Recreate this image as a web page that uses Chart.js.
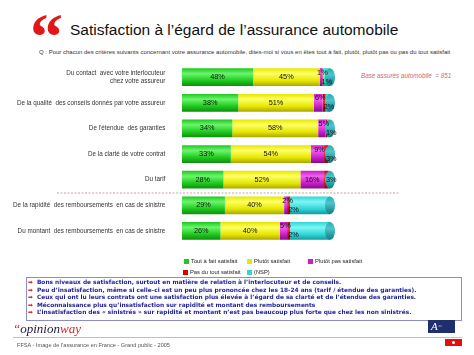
<!DOCTYPE html>
<html><head><meta charset="utf-8">
<script src="https://cdn.jsdelivr.net/npm/chart.js@4"></script>
<style>
body{margin:0;width:474px;height:355px;background:#fff;position:relative;overflow:hidden;font-family:"Liberation Sans",Arial,sans-serif}
.abs{position:absolute;white-space:nowrap}
#c{position:absolute;left:0;top:0}
.lg{position:absolute;font-size:5.8px;line-height:6px;color:#222;white-space:nowrap}
.lg i{display:inline-block;width:5px;height:5px;margin-right:2px;vertical-align:-0.5px}
.bx{position:absolute;left:26px;top:277px;width:434px;height:42px;border:1px solid #8c8cc8}
.ln{position:absolute;left:28px;font-family:"DejaVu Sans",Verdana,sans-serif;font-weight:bold;font-size:5.85px;line-height:7px;color:#1e1e9a;white-space:nowrap}
.ln b{color:#e03020;margin-right:4px}
</style></head><body>
<div class="abs" style="left:30px;top:4px;font-family:'Liberation Serif',serif;font-weight:bold;font-size:66px;line-height:66px;color:#e01818">“</div>
<div class="abs" style="left:70px;top:22px;font-size:15.5px;line-height:16px;color:#111">Satisfaction à l’égard de l’assurance automobile</div>
<div class="abs" style="left:39px;top:49px;font-size:6px;line-height:6px;color:#333">Q : Pour chacun des critères suivants concernant votre assurance automobile, dites-moi si vous en êtes tout à fait, plutôt, plutôt pas ou pas du tout satisfait</div>
<div class="abs" style="left:361px;top:72px;font-size:6.3px;line-height:7px;font-style:italic;color:#d06a6a">Base assurés automobile &nbsp;= 851</div>
<canvas id="c" width="474" height="260"></canvas>
<div id="legend"></div>
<div class="bx"></div>
<div id="notes"></div>
<div class="abs" style="left:13px;top:322px;font-family:'Liberation Serif',serif;font-style:italic;font-size:13px;line-height:14px"><span style="color:#e02020">“</span><span style="color:#1a1a40">opinion</span><span style="color:#e02020">way</span></div>
<div class="abs" style="left:13px;top:337px;width:449px;height:1px;background:#d8b4b4"></div>
<div class="abs" style="left:17px;top:342px;font-size:5.6px;line-height:6px;color:#555">FFSA - Image de l’assurance en France - Grand public - 2005</div>
<div class="abs" style="left:428px;top:320px;width:27px;height:13px;background:#1f2f6e;color:#fff;font-family:'Liberation Serif',serif;font-style:italic;font-size:11px;line-height:13px;text-indent:3px">A<span style="font-size:3px;font-style:normal;vertical-align:3px"> ≡≡</span></div>
<div class="abs" style="left:445px;top:339px;width:17px;height:7px;background:#e01010"><div style="position:absolute;left:7px;top:2px;width:3px;height:3px;background:#fff;border-radius:2px"></div></div>
<script>
const categories = [
  ["Du contact  avec votre interlocuteur", "chez votre assureur"],
  "De la qualité  des conseils donnés par votre assureur",
  "De l'étendue  des garanties",
  "De la clarté de votre contrat",
  "Du tarif",
  "De la rapidité  des remboursements  en cas de sinistre",
  "Du montant  des remboursements  en cas de sinistre"
];
const seriesNames = ["Tout à fait satisfait", "Plutôt satisfait", "Plutôt pas satisfait", "Pas du tout satisfait", "(NSP)"];
const toutAFait = [48, 38, 34, 33, 28, 29, 26];
const plutot    = [45, 51, 58, 54, 52, 40, 40];
const plutotPas = [1, 6, 5, 9, 16, 2, 5];
const pasDuTout = [1, 2, 1, 3, 3, 2, 2];
const nsp       = [5, 3, 2, 1, 1, 27, 27];
const notes = [
  "Bons niveaux de satisfaction,  surtout en matière de relation à l’interlocuteur  et de conseils.",
  "Peu d’insatisfaction,  même si celle-ci est un peu plus prononcée chez les 18-24 ans (tarif / étendue des garanties).",
  "Ceux qui ont lu leurs contrats ont une  satisfaction plus élevée à l’égard de sa clarté et de l’étendue des garanties.",
  "Méconnaissance plus qu’insatisfaction  sur rapidité et montant  des remboursements",
  "L’insatisfaction des « sinistrés » sur rapidité et montant n’est pas beaucoup plus forte que chez les non sinistrés."
];

const palette = [
  {base:'#1ec81e', light:'#6cf56c', dark:'#0f8f0f'},
  {base:'#e6e600', light:'#ffff66', dark:'#a8a800'},
  {base:'#c81ec8', light:'#f060f0', dark:'#8a0a8a'},
  {base:'#d80000', light:'#ff4040', dark:'#900000'},
  {base:'#30d6d6', light:'#80f4f4', dark:'#159a9a'}
];
const CAT_PCT = 0.69;
function grad(p){
  return (ctx) => {
    const ch = ctx.chart, ys = ch.scales.y;
    if (!ch.chartArea || !ys || ctx.dataIndex === undefined) return p.base;
    const yc = ys.getPixelForValue(ctx.dataIndex);
    const h = ys.height / categories.length * CAT_PCT / 2;
    const g = ch.ctx.createLinearGradient(0, yc - h, 0, yc + h);
    g.addColorStop(0, p.base);
    g.addColorStop(0.3, p.light);
    g.addColorStop(0.7, p.base);
    g.addColorStop(1, p.dark);
    return g;
  };
}
const allData = [toutAFait, plutot, plutotPas, pasDuTout, nsp];
const datasets = allData.map((d, i) => ({
  label: seriesNames[i], data: d,
  backgroundColor: grad(palette[i]),
  borderWidth: 0,
  borderRadius: i === 0 ? 6 : 0,
  borderSkipped: false,
  categoryPercentage: CAT_PCT, barPercentage: 1
}));

const deco = {
  id: 'deco',
  afterDatasetsDraw(chart) {
    const c = chart.ctx, ys = chart.scales.y;
    const last = chart.getDatasetMeta(4);
    last.data.forEach(el => {
      const h = el.height / 2;
      const g = c.createLinearGradient(0, el.y - h, 0, el.y + h);
      g.addColorStop(0, '#2aa8ae'); g.addColorStop(0.35, '#4cc6cc'); g.addColorStop(1, '#0f7c84');
      c.save(); c.beginPath(); c.ellipse(el.x, el.y, 5, h, 0, 0, Math.PI * 2);
      c.fillStyle = g; c.fill(); c.restore();
    });
    c.save();
    c.font = '7.3px "Liberation Sans", Arial, sans-serif';
    c.textAlign = 'center'; c.textBaseline = 'middle'; c.fillStyle = '#111';
    for (let i = 0; i < categories.length; i++) {
      for (let d = 0; d < 4; d++) {
        const el = chart.getDatasetMeta(d).data[i];
        const v = allData[d][i];
        if (!v) continue;
        const cx = (el.x + el.base) / 2;
        let x = cx, y = el.y;
        if (d === 2 && v < 10) { y -= 4.5; x += 2; }
        if (d === 3) { x += 5; if (plutotPas[i] < 10) y += 4.5; }
        c.fillText(v + '%', x, y);
      }
    }
    c.restore();
    const ySep = (ys.getPixelForValue(4) + ys.getPixelForValue(5)) / 2;
    c.save(); c.strokeStyle = '#c9a2a2'; c.lineWidth = 1; c.setLineDash([2, 1.5]);
    c.beginPath(); c.moveTo(57, ySep + 0.5); c.lineTo(399, ySep + 0.5); c.stroke(); c.restore();
  }
};

new Chart(document.getElementById('c'), {
  type: 'bar',
  data: { labels: categories, datasets },
  options: {
    indexAxis: 'y', responsive: false, animation: false, devicePixelRatio: 1,
    layout: { padding: { top: 64.4, bottom: 12.2, left: 0, right: 144 } },
    plugins: { legend: { display: false }, tooltip: { enabled: false } },
    scales: {
      x: { stacked: true, min: 0, max: 100, display: false },
      y: { stacked: true, grid: { display: false }, border: { display: false },
           ticks: { color: '#333', padding: 8.7, font: { size: 6.3, family: '"Liberation Sans", Arial, sans-serif' } },
           afterFit: (s) => { s.width = 182; } }
    }
  },
  plugins: [deco]
});

const legPos = [[184, 258], [247, 258], [308, 258], [183, 269], [247, 269]];
const lg = document.getElementById('legend');
seriesNames.forEach((n, i) => {
  const d = document.createElement('div');
  d.className = 'lg';
  d.style.left = legPos[i][0] + 'px'; d.style.top = legPos[i][1] + 'px';
  d.innerHTML = '<i style="background:' + palette[i].base + '"></i>' + n;
  lg.appendChild(d);
});
const nt = document.getElementById('notes');
const noteY = [282.3, 290, 297.3, 305, 312.3];
notes.forEach((t, i) => {
  const d = document.createElement('div');
  d.className = 'ln';
  d.style.top = (noteY[i] - 3.5) + 'px';
  d.innerHTML = '<b>➡</b>' + t;
  nt.appendChild(d);
});
</script>
</body></html>
